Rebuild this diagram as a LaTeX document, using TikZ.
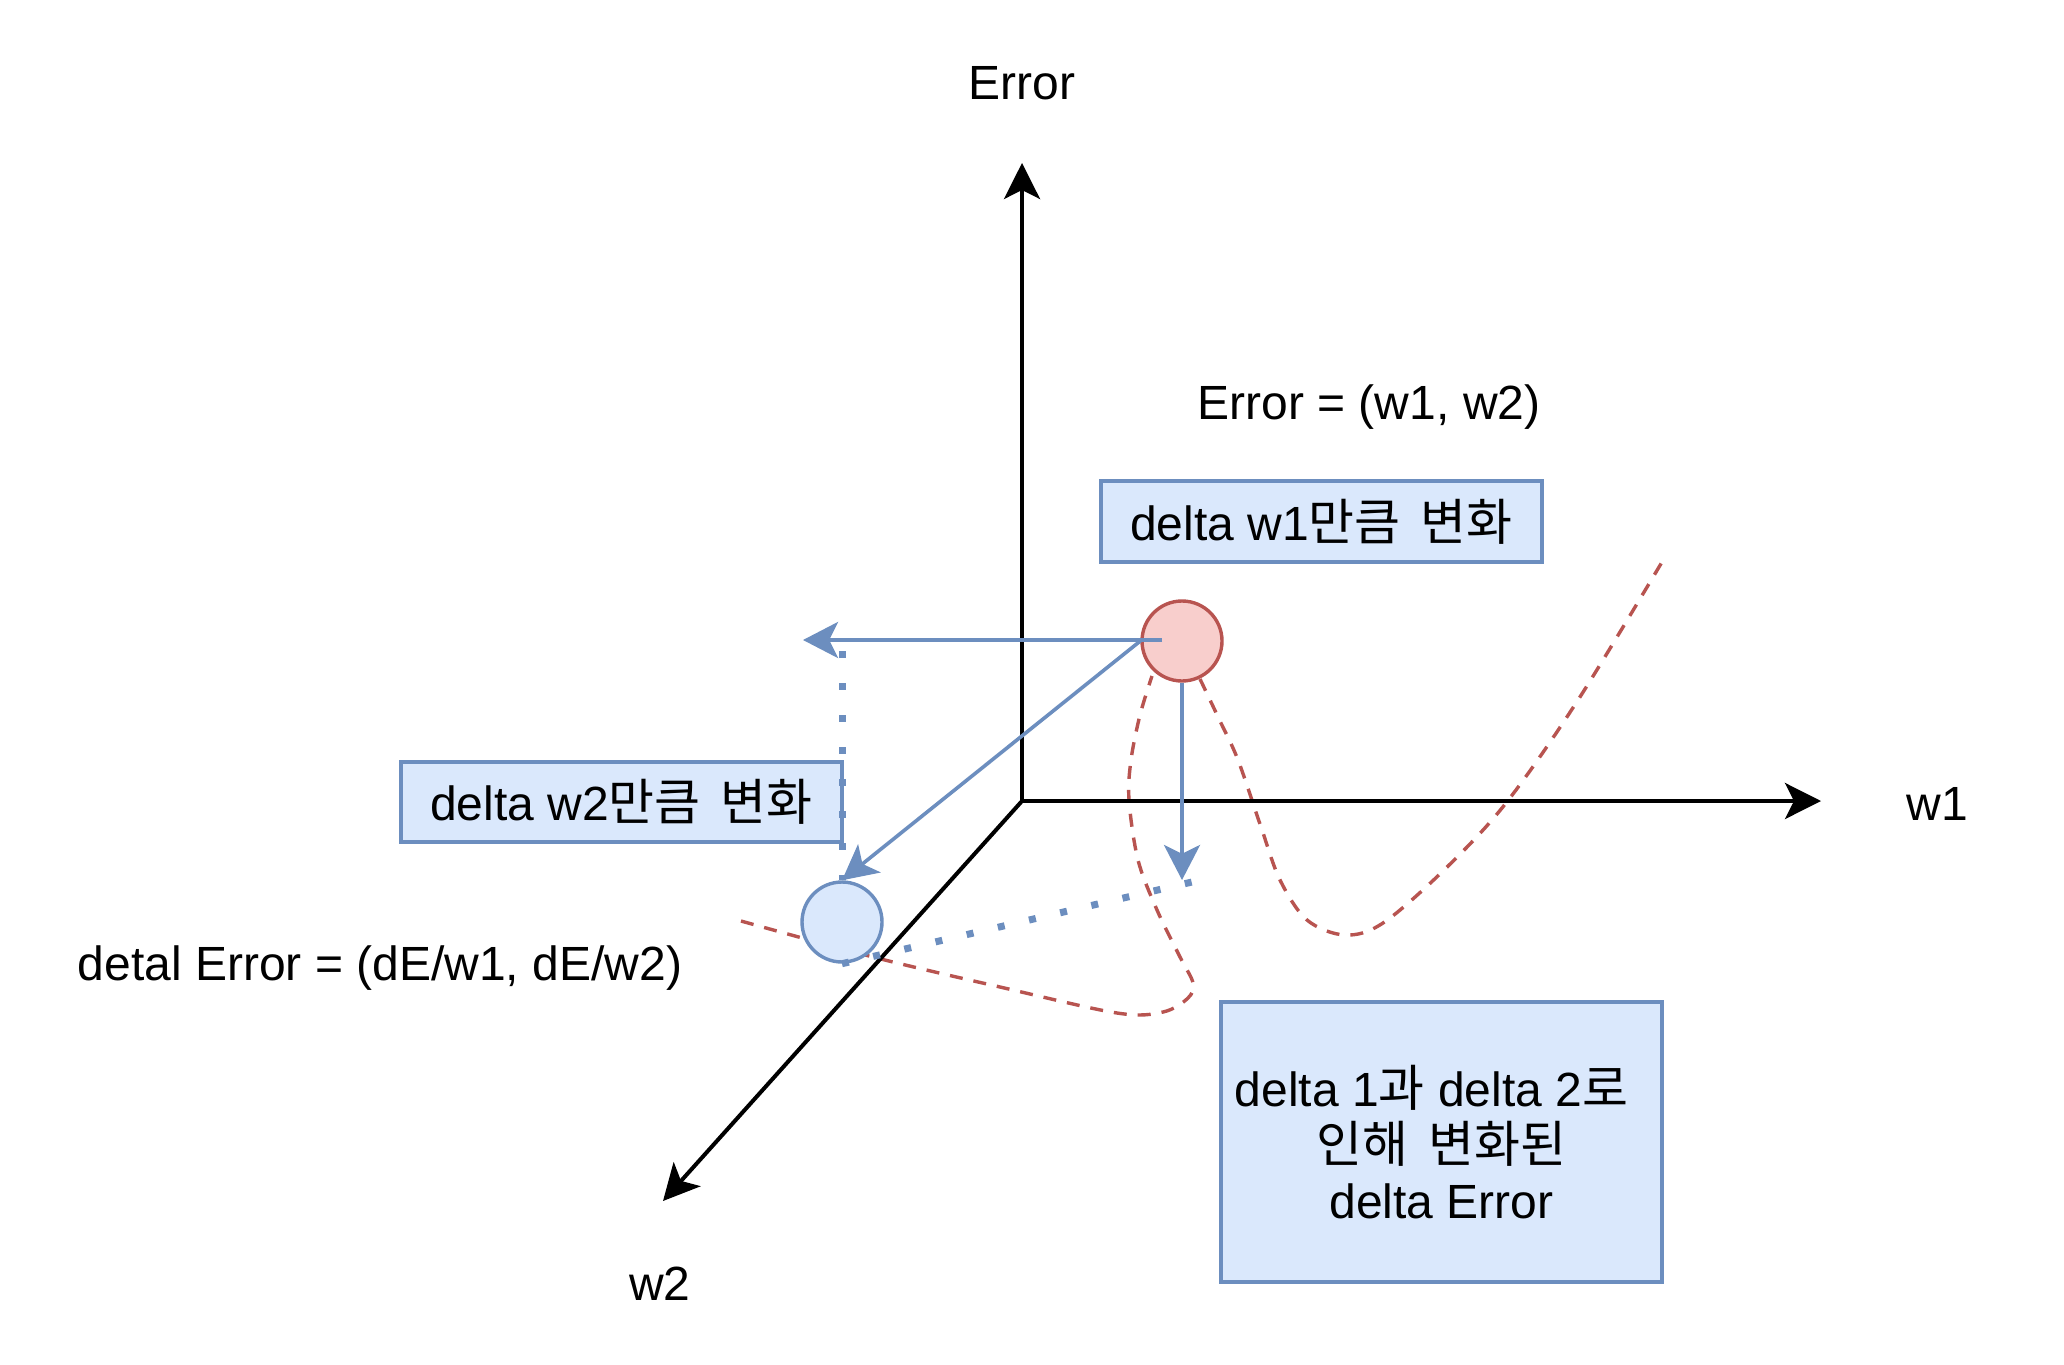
\documentclass[tikz,border=0pt]{standalone}
\usepackage{fontspec}
\setmainfont{Liberation Sans}
\newfontfamily\krfont[Scale=1.04]{Noto Sans CJK KR}
\newcommand\kr[1]{{\krfont #1}}
\newcommand\krsp{\hspace{0.42em}}
\usetikzlibrary{arrows.meta}
\definecolor{bstroke}{HTML}{6C8EBF}
\definecolor{bfill}{HTML}{DAE8FC}
\definecolor{rstroke}{HTML}{B85450}
\definecolor{rfill}{HTML}{F8CECC}
\begin{document}
\begin{tikzpicture}[x=0.5pt,y=-0.5pt,
  font=\fontsize{24pt}{28.2pt}\selectfont,
  axisline/.style={line width=2pt,-{Stealth[length=18pt,width=18pt,inset=4.5pt]}},
  barrow/.style={draw=bstroke,line width=1.8pt,-{Stealth[length=17.5pt,width=18pt,inset=4.4pt]}},
  bdots/.style={draw=bstroke,line width=3.5pt,dash pattern=on 3.5pt off 12.5pt},
  rdash/.style={draw=rstroke,line width=1.7pt,dash pattern=on 6.5pt off 5.5pt},
  bbox/.style={draw=bstroke,fill=bfill,line width=1.7pt,minimum width=220.5pt,inner sep=0pt,align=center},
  dot/.style={circle,line width=1.7pt,minimum size=40pt,inner sep=0pt},
  lbl/.style={inner sep=0pt,anchor=base}
]
\useasboundingbox (0,0) rectangle (2064,1364);
\fill[white] (0,0) rectangle (2064,1364);

% red dashed error curves
\draw[rdash] plot[smooth,tension=0.55] coordinates {(741,921) (873,957) (1000,987) (1117,1013) (1163,1012) (1188,998) (1193,983) (1180,957) (1157,910) (1138,860) (1129,800) (1131,760) (1140,715) (1152,676)};
\draw[rdash] plot[smooth,tension=0.55] coordinates {(1200,679) (1219,719) (1238,760) (1261,827) (1280,880) (1307,920) (1345,935) (1383,923) (1444,870) (1506,803) (1578,700) (1662,562)};

% axes
\coordinate (O) at (1022,801);
\coordinate (ytip) at (1022,163);
\coordinate (w1tip) at (1821,801);
\coordinate (w2tip) at (663,1201);
\draw[axisline] (O) -- (ytip);
\draw[axisline] (O) -- (w1tip);
\draw[axisline] (O) -- (w2tip);

% labels
\node[lbl] (errlbl) at (1022,100) {Error};
\node[lbl] (w1lbl) at (1937,820) {w1};
\node[lbl] (w2lbl) at (660,1300) {w2};
\node[lbl] (eqlbl) at (1369,419) {Error = (w1, w2)};
\node[lbl] (dlbl) at (380,980) {detal Error = (dE/w1, dE/w2)};

% boxes
\node[bbox,minimum height=40.5pt] (b1) at (1321.5,521.5) {delta w1\kr{만큼}\krsp\kr{변화}};
\node[bbox,minimum height=40pt] (b2) at (621.5,802) {delta w2\kr{만큼}\krsp\kr{변화}};
\node[bbox,minimum height=140pt] (b3) at (1441.5,1142) {delta 1\kr{과} delta 2\kr{로}\hspace*{0.42em}\\\kr{인해}\krsp\kr{변화된}\\delta Error};

% points
\node[dot,draw=rstroke,fill=rfill] (red) at (1182,641) {};
\node[dot,draw=bstroke,fill=bfill] (blue) at (842,922) {};

% blue arrows and dotted lines
\coordinate (htip) at (803,640);
\coordinate (dtip) at (1182,880);
\coordinate (vdtop) at (842,651);
\coordinate (ddend) at (1192,882);
\draw[bdots] (vdtop) -- (blue.north);
\draw[bdots] (blue.south) -- (ddend);
\draw[barrow] ([xshift=-10pt,yshift=0.5pt]red.center) -- (htip);
\draw[barrow] (red.west) -- (blue.north);
\draw[barrow] (red.south) -- (dtip);
\end{tikzpicture}
\end{document}
